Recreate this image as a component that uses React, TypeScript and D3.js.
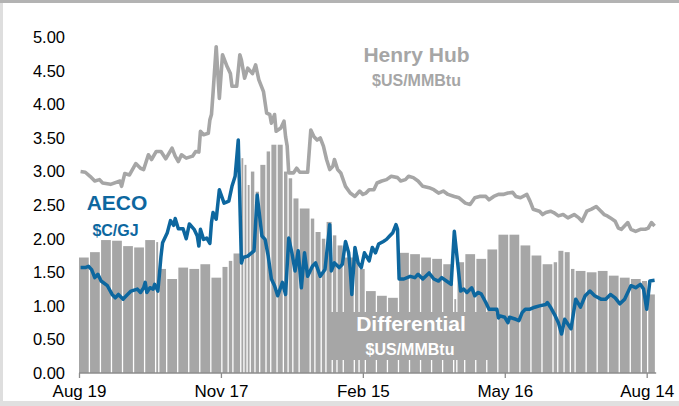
import React, { useEffect, useRef } from 'react'
import * as d3 from 'd3'

// days counted from Aug 19 2018
const startDay = '2018-08-19'
const tickDates = ['2018-08-19', '2018-11-17', '2019-02-15', '2019-05-16', '2019-08-14']
const yTicks = [0, 0.5, 1, 1.5, 2, 2.5, 3, 3.5, 4, 4.5, 5]

// Henry Hub, $US/MMBtu
const hhDays = [1, 4, 7, 10, 13, 15, 20, 26, 27, 29, 32, 36, 39, 41, 44, 46, 49, 52, 55, 59, 61, 63, 65, 68, 72, 74, 76, 77, 79, 82, 83, 84, 85, 87, 89, 91, 94, 96, 97, 100, 102, 103, 105, 107, 110, 112, 114, 117, 119, 121, 122, 124, 125, 128, 130, 131, 132, 133, 136, 138, 140, 145, 147, 149, 151, 153, 155, 157, 159, 161, 162, 164, 166, 169, 172, 175, 178, 180, 182, 184, 187, 189, 192, 195, 198, 202, 204, 207, 209, 212, 215, 218, 222, 225, 228, 231, 234, 238, 241, 245, 248, 251, 254, 258, 260, 263, 266, 269, 272, 275, 277, 280, 284, 286, 288, 292, 294, 296, 299, 301, 304, 307, 310, 314, 317, 319, 322, 325, 328, 331, 333, 335, 337, 340, 342, 344, 348, 350, 353, 356, 359, 361, 363, 365]
const hhValues = [3.00, 2.99, 2.93, 2.86, 2.88, 2.83, 2.81, 2.86, 2.78, 2.97, 2.95, 3.12, 3.05, 3.03, 3.25, 3.18, 3.30, 3.30, 3.19, 3.35, 3.23, 3.15, 3.25, 3.20, 3.23, 3.30, 3.29, 3.60, 3.55, 3.57, 3.77, 3.85, 4.17, 4.86, 4.09, 4.74, 4.56, 4.46, 4.27, 4.27, 4.74, 4.66, 4.39, 4.54, 4.46, 4.59, 4.37, 4.19, 3.87, 3.85, 3.72, 3.85, 3.60, 3.65, 3.75, 3.52, 3.38, 2.98, 2.98, 3.05, 2.99, 2.99, 3.62, 3.52, 3.47, 3.50, 3.38, 3.18, 3.03, 3.08, 3.18, 3.03, 2.98, 2.78, 2.68, 2.63, 2.71, 2.66, 2.68, 2.73, 2.73, 2.83, 2.86, 2.88, 2.93, 2.91, 2.86, 2.88, 2.93, 2.91, 2.86, 2.78, 2.76, 2.73, 2.68, 2.71, 2.66, 2.63, 2.61, 2.53, 2.51, 2.61, 2.63, 2.63, 2.58, 2.63, 2.66, 2.66, 2.68, 2.69, 2.63, 2.61, 2.66, 2.56, 2.44, 2.41, 2.36, 2.39, 2.41, 2.39, 2.34, 2.36, 2.31, 2.36, 2.31, 2.26, 2.41, 2.44, 2.48, 2.41, 2.36, 2.34, 2.31, 2.26, 2.16, 2.14, 2.24, 2.14, 2.11, 2.14, 2.14, 2.16, 2.24, 2.19]

// AECO, $C/GJ
const aecoDays = [1, 4, 6, 8, 10, 12, 14, 18, 21, 23, 25, 28, 30, 33, 37, 39, 41, 42, 43, 45, 47, 48, 50, 51, 52, 53, 56, 58, 60, 61, 63, 66, 68, 70, 73, 75, 76, 77, 79, 81, 83, 84, 85, 87, 89, 92, 95, 97, 99, 101, 103, 104, 107, 111, 113, 116, 118, 120, 122, 124, 126, 129, 131, 133, 135, 137, 139, 141, 143, 145, 148, 150, 153, 156, 159, 160, 162, 165, 167, 169, 171, 172, 173, 175, 177, 179, 181, 184, 186, 188, 190, 193, 195, 197, 199, 201, 202, 203, 206, 210, 213, 215, 218, 222, 225, 228, 230, 233, 236, 238, 242, 244, 246, 249, 251, 253, 255, 258, 260, 265, 266, 267, 270, 272, 273, 277, 279, 281, 283, 286, 289, 292, 296, 297, 299, 302, 304, 306, 308, 312, 315, 318, 321, 324, 327, 331, 334, 337, 340, 343, 346, 350, 353, 356, 358, 360, 362, 365]
const aecoValues = [1.57, 1.57, 1.59, 1.54, 1.42, 1.47, 1.37, 1.30, 1.17, 1.12, 1.17, 1.10, 1.15, 1.22, 1.25, 1.20, 1.27, 1.35, 1.20, 1.27, 1.25, 1.32, 1.22, 1.47, 1.74, 1.94, 2.09, 2.27, 2.20, 2.30, 2.15, 2.15, 2.00, 2.22, 2.14, 2.04, 1.89, 2.14, 1.99, 2.01, 1.93, 2.24, 2.39, 2.29, 2.73, 2.53, 2.56, 2.78, 2.93, 3.47, 1.64, 1.72, 1.74, 1.82, 2.65, 2.04, 1.99, 1.74, 1.40, 1.30, 1.15, 1.35, 1.17, 2.01, 1.79, 1.52, 1.82, 1.27, 1.79, 1.44, 1.59, 1.64, 1.44, 1.54, 2.21, 1.52, 1.64, 1.57, 1.62, 1.96, 1.79, 1.54, 1.17, 1.87, 1.64, 1.57, 1.79, 1.67, 1.87, 1.79, 1.92, 1.96, 1.99, 2.04, 2.09, 2.21, 2.14, 1.40, 1.40, 1.44, 1.42, 1.47, 1.40, 1.49, 1.40, 1.37, 1.42, 1.37, 1.32, 2.11, 1.22, 1.25, 1.20, 1.27, 1.15, 1.20, 1.18, 1.05, 0.95, 0.95, 0.82, 0.85, 0.83, 0.75, 0.83, 0.80, 0.78, 0.90, 0.95, 0.95, 0.98, 1.00, 1.02, 1.05, 0.98, 0.85, 0.75, 0.58, 0.80, 0.66, 1.10, 0.98, 1.15, 1.22, 1.15, 1.10, 1.10, 1.17, 1.12, 1.03, 1.10, 1.30, 1.27, 1.32, 1.25, 0.95, 1.37, 1.38]

// Differential, $US/MMBtu (each bar runs to the next start day)
const diffDays = [0, 7, 14, 21, 28, 35, 42, 49, 51, 56, 63, 70, 77, 84, 91, 95, 98, 103, 105, 107, 109, 112, 115, 119, 122, 126, 130, 133, 136, 140, 147, 150, 154, 157, 161, 164, 168, 175, 178, 182, 189, 196, 203, 210, 217, 224, 231, 238, 240, 245, 252, 259, 266, 273, 280, 287, 294, 301, 304, 308, 312, 315, 322, 329, 336, 343, 350, 357, 361]
const diffValues = [1.72, 1.80, 1.98, 1.97, 1.89, 1.87, 1.98, 1.95, 1.55, 1.40, 1.57, 1.55, 1.62, 1.42, 1.58, 1.67, 1.78, 3.20, 3.10, 2.80, 3.00, 2.70, 3.10, 3.30, 3.40, 3.40, 3.00, 2.90, 2.60, 2.45, 2.30, 2.10, 2.00, 2.25, 2.05, 1.90, 1.72, 1.75, 1.55, 1.22, 1.15, 1.12, 1.79, 1.77, 1.72, 1.70, 1.62, 1.10, 1.65, 1.77, 1.70, 1.84, 2.06, 2.06, 1.90, 1.75, 1.62, 1.65, 1.82, 1.80, 1.55, 1.52, 1.50, 1.52, 1.45, 1.42, 1.40, 1.37, 1.17]
const diffEndDay = 366

const grey = '#a6a6a6'
const blue = '#0d679f'
const font = '"Liberation Sans", Arial, sans-serif'

export default function App() {
    const svgRef = useRef<SVGSVGElement>(null)
    const width = 679
    const height = 406

    useEffect(() => {
        const svg = d3.select(svgRef.current)
        svg.selectAll('*').remove()

        const parse = d3.utcParse('%Y-%m-%d')
        const start = parse(startDay) as Date
        const day = (d: number) => d3.utcDay.offset(start, d)

        const x = d3.scaleUtc()
            .domain([start, parse(tickDates[4]) as Date])
            .range([79, 646.7])
        const y = d3.scaleLinear().domain([0, 5]).range([373, 37.3])

        // frame
        svg.append('rect').attr('width', width).attr('height', height).attr('fill', '#fff')
        svg.append('rect').attr('width', 3).attr('height', height).attr('fill', '#dedede')
        svg.append('rect').attr('y', 401).attr('width', width).attr('height', 5).attr('fill', '#e0e0e0')
        svg.append('rect').attr('width', width).attr('height', 3).attr('fill', '#b3b3b3')

        // differential bars
        svg.append('g')
            .selectAll('rect')
            .data(diffDays)
            .join('rect')
            .attr('x', d => x(day(d)))
            .attr('width', (d, i) => Math.max(0.6, x(day(diffDays[i + 1] ?? diffEndDay)) - x(day(d)) - 1.3))
            .attr('y', (d, i) => y(diffValues[i]))
            .attr('height', (d, i) => y(0) - y(diffValues[i]))
            .attr('fill', grey)

        const hhLine = d3.line<number>().x(d => x(day(d))).y((d, i) => y(hhValues[i]))
        svg.append('path')
            .attr('d', hhLine(hhDays))
            .attr('fill', 'none')
            .attr('stroke', grey)
            .attr('stroke-width', 3.6)
            .attr('stroke-linejoin', 'round')

        const aecoLine = d3.line<number>().x(d => x(day(d))).y((d, i) => y(aecoValues[i]))
        svg.append('path')
            .attr('d', aecoLine(aecoDays))
            .attr('fill', 'none')
            .attr('stroke', blue)
            .attr('stroke-width', 3.5)
            .attr('stroke-linejoin', 'round')

        // differential label box
        svg.append('rect')
            .attr('x', 327).attr('y', 312).attr('width', 169).attr('height', 48)
            .attr('fill', grey)

        const label = (txt: string, cx: number, cy: number, size: number, color: string) =>
            svg.append('text')
                .attr('x', cx).attr('y', cy)
                .attr('text-anchor', 'middle')
                .attr('font-family', font)
                .attr('font-weight', 'bold')
                .attr('font-size', size)
                .attr('fill', color)
                .text(txt)

        label('Henry Hub', 416.5, 61.5, 21, grey)
        label('$US/MMBtu', 416.5, 86, 16, grey)
        label('AECO', 117, 210, 21, blue)
        label('$C/GJ', 115.5, 236, 16, blue)
        label('Differential', 411, 331, 21, '#fff')
        label('$US/MMBtu', 410, 355, 16, '#fff')

        // y axis labels
        svg.append('g')
            .attr('transform', 'translate(68,0)')
            .call(d3.axisLeft(y).tickValues(yTicks).tickFormat(d3.format('.2f')).tickSize(0).tickPadding(3))
            .call(g => g.select('.domain').remove())
            .call(g => g.selectAll('text').attr('font-family', font).attr('font-size', 16.5).attr('fill', '#000'))

        // x axis
        const xAxis = svg.append('g')
            .attr('transform', `translate(0,${y(0)})`)
            .call(d3.axisBottom(x)
                .tickValues(tickDates.map(t => parse(t) as Date))
                .tickFormat(d3.utcFormat('%b %-d') as any)
                .tickSize(5)
                .tickPadding(7))
            .call(g => g.select('.domain').remove())
        xAxis.selectAll('line').attr('stroke', '#8c8c8c').attr('stroke-width', 1.3)
        xAxis.selectAll('text').attr('font-family', font).attr('font-size', 17).attr('fill', '#000')
        xAxis.append('line')
            .attr('x1', x(start)).attr('x2', x(day(diffEndDay)))
            .attr('stroke', '#8c8c8c').attr('stroke-width', 1.5)
    }, [])

    return (
        <svg ref={svgRef} width={width} height={height}
            style={{ position: 'absolute', left: 0, top: 0, display: 'block' }} />
    )
}
